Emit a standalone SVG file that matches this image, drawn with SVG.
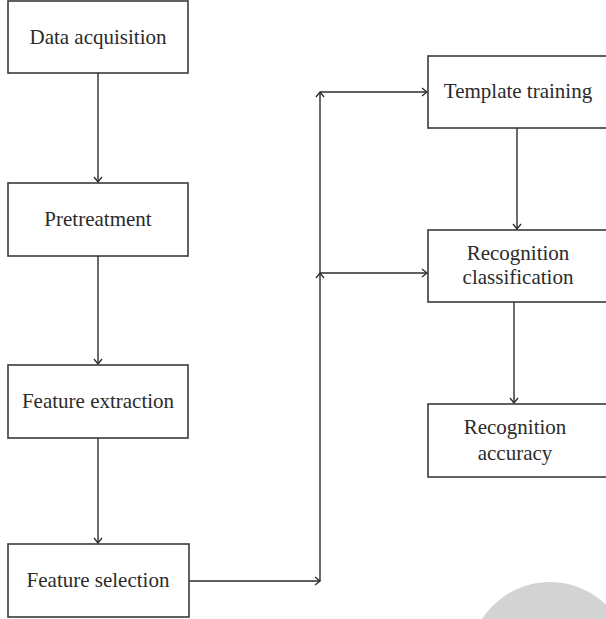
<svg xmlns="http://www.w3.org/2000/svg" width="606" height="619" viewBox="0 0 606 619">
<style>
.box{fill:#fff;stroke:#3a3a3a;stroke-width:1.6}
.lbl{font-family:"Liberation Serif","DejaVu Serif",serif;font-size:21px;fill:#2b2b2b;text-anchor:middle;dominant-baseline:central}
.ln{fill:none;stroke:#2b2b2b;stroke-width:1.4}
</style>
<defs>
<marker id="ah" viewBox="-8 -6 10 12" markerWidth="10" markerHeight="12" refX="0" refY="0" orient="auto" markerUnits="userSpaceOnUse">
<path d="M-5,-4 L0,0 L-5,4" fill="none" stroke="#2b2b2b" stroke-width="1.3"/>
</marker>
</defs>
<rect width="606" height="619" fill="#fff"/>
<circle cx="550" cy="663" r="81" fill="#d3d3d3"/>
<g id="connectors">
<line class="ln" x1="98" y1="73" x2="98" y2="182" marker-end="url(#ah)"/>
<line class="ln" x1="98" y1="256" x2="98" y2="364" marker-end="url(#ah)"/>
<line class="ln" x1="98" y1="438" x2="98" y2="543" marker-end="url(#ah)"/>
<line class="ln" x1="189" y1="581" x2="320" y2="581" marker-end="url(#ah)"/>
<line class="ln" x1="320" y1="581" x2="320" y2="273" marker-end="url(#ah)"/>
<line class="ln" x1="320" y1="273" x2="320" y2="92" marker-end="url(#ah)"/>
<line class="ln" x1="320" y1="92" x2="427" y2="92" marker-end="url(#ah)"/>
<line class="ln" x1="320" y1="273" x2="427" y2="273" marker-end="url(#ah)"/>
<line class="ln" x1="517" y1="128" x2="517" y2="229" marker-end="url(#ah)"/>
<line class="ln" x1="514" y1="302" x2="514" y2="403" marker-end="url(#ah)"/>
</g>
<g id="data-acquisition"><rect class="box" x="8" y="1" width="180" height="72"/><text class="lbl" x="98" y="37">Data acquisition</text></g>
<g id="pretreatment"><rect class="box" x="8" y="183" width="180" height="73"/><text class="lbl" x="98" y="219">Pretreatment</text></g>
<g id="feature-extraction"><rect class="box" x="8" y="365" width="180" height="73"/><text class="lbl" x="98" y="401">Feature extraction</text></g>
<g id="feature-selection"><rect class="box" x="8" y="544" width="181" height="73"/><text class="lbl" x="98" y="580">Feature selection</text></g>
<g id="template-training"><rect class="box" x="428" y="56" width="190" height="72"/><text class="lbl" x="518" y="91">Template training</text></g>
<g id="recognition-classification"><rect class="box" x="428" y="230" width="190" height="72"/><text class="lbl" x="518" y="253">Recognition</text><text class="lbl" x="518" y="277">classification</text></g>
<g id="recognition-accuracy"><rect class="box" x="428" y="404" width="190" height="73"/><text class="lbl" x="515" y="427">Recognition</text><text class="lbl" x="515" y="453">accuracy</text></g>
</svg>
